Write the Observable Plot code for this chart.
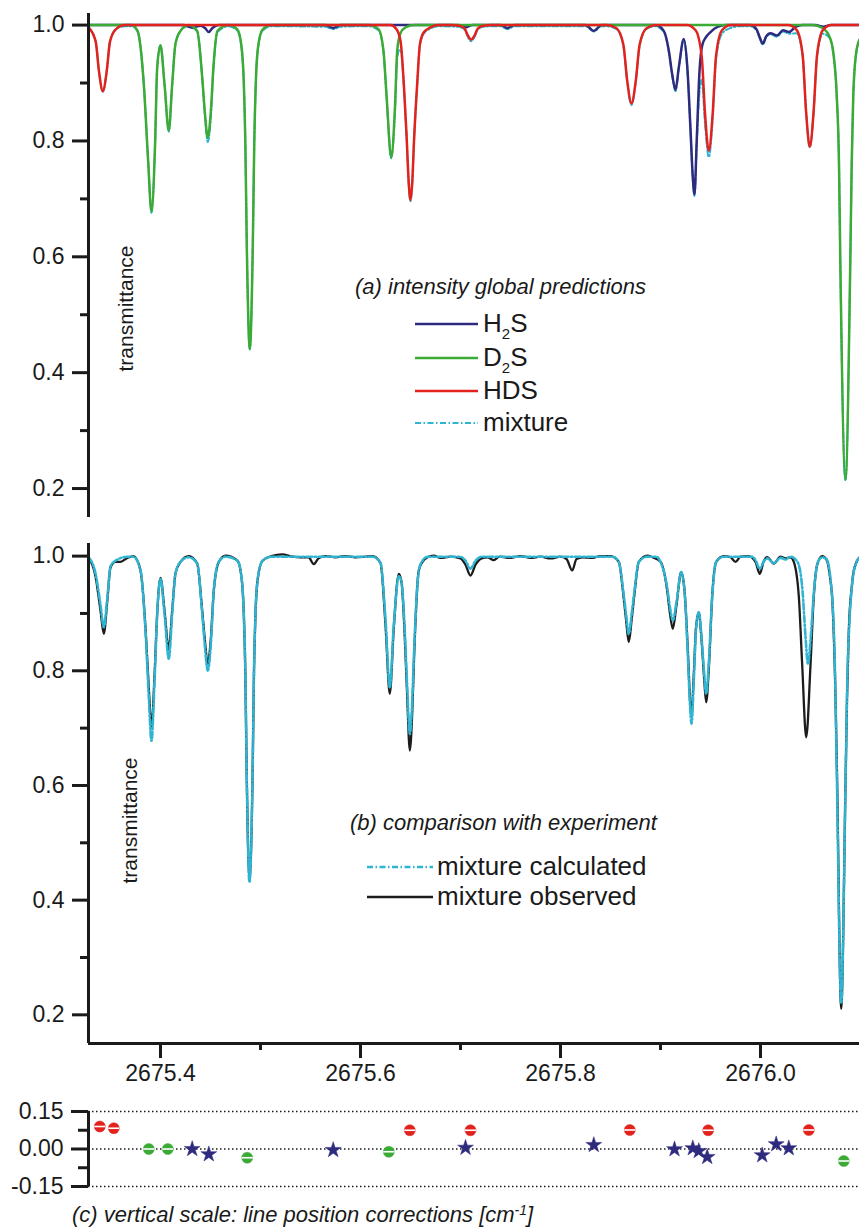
<!DOCTYPE html>
<html><head><meta charset="utf-8">
<script src="https://cdn.jsdelivr.net/npm/d3@7"></script>
<script src="https://cdn.jsdelivr.net/npm/@observablehq/plot@0.6"></script>
<style>
body{margin:0;background:#fff;font-family:"Liberation Sans",Arial,sans-serif;color:#1a1a1a;}
#wrap{position:relative;width:859px;height:1228px;overflow:hidden;background:#fff;}
#wrap > svg{position:absolute;left:0;}
.t{position:absolute;white-space:nowrap;line-height:1;}
.it{font-style:italic;font-size:22px;}
.lg{font-size:26px;}
.rot{transform:rotate(-90deg);transform-origin:center center;font-size:21px;}
.sw{position:absolute;}
</style></head><body>
<div id="wrap"></div>
<script>
// ---------- data ----------
const xDomain = [2675.328, 2676.099];
const yTicksAB = [0.2, 0.4, 0.6, 0.8, 1.0];
const yMinorAB = [0.3, 0.5, 0.7, 0.9];
const xTicks = [2675.4, 2675.6, 2675.8, 2676.0];
const xMinor = [2675.5, 2675.7, 2675.9];
const yTicksC = [0.15, 0.0, -0.15];
const yMinorC = [0.075, -0.075];

// (a) H2S prediction [wavenumber, transmittance]
const h2sA = [[2675.328,1],[2675.423,1],[2675.4317,0.996],[2675.44,0.999],[2675.4445,0.995],[2675.4483,0.988],[2675.452,0.995],[2675.458,1],
[2675.565,1],[2675.5727,0.995],[2675.58,1],[2675.698,1],[2675.705,0.996],[2675.712,1],[2675.74,1],[2675.747,0.995],[2675.754,1],
[2675.825,1],[2675.8333,0.99],[2675.841,1],[2675.895,1],[2675.9033,0.99],[2675.9083,0.956],[2675.9117,0.915],[2675.915,0.888],[2675.9183,0.927],
[2675.9233,0.976],[2675.9267,0.93],[2675.93,0.82],[2675.9322,0.74],[2675.934,0.708],[2675.9362,0.8],[2675.939,0.92],[2675.9417,0.965],[2675.945,0.978],
[2675.95,0.988],[2675.957,0.997],[2675.965,1],[2675.99,1],[2675.996,0.993],[2675.999,0.98],[2676.0023,0.968],[2676.0055,0.98],[2676.01,0.986],
[2676.0165,0.982],[2676.0225,0.991],[2676.0285,0.988],[2676.035,0.997],[2676.042,1],[2676.055,1],[2676.063,0.997],[2676.07,1],[2676.099,1]];

// (a) D2S prediction
const d2sA = [[2675.328,1],[2675.371,1],[2675.377,0.99],[2675.3833,0.898],[2675.3875,0.77],[2675.391,0.678],[2675.3945,0.79],[2675.3967,0.927],
[2675.4,0.965],[2675.404,0.898],[2675.4083,0.818],[2675.4117,0.898],[2675.415,0.968],[2675.42,0.99],[2675.428,1],[2675.4367,0.99],[2675.4417,0.91],
[2675.4443,0.85],[2675.4473,0.806],[2675.4503,0.85],[2675.453,0.93],[2675.457,0.99],[2675.468,1],[2675.477,0.992],[2675.4812,0.96],[2675.4833,0.9],
[2675.4848,0.8],[2675.4863,0.62],[2675.4893,0.441],[2675.4923,0.62],[2675.4938,0.8],[2675.4953,0.9],[2675.4974,0.96],[2675.502,0.992],[2675.511,1],
[2675.608,1],[2675.618,0.993],[2675.623,0.955],[2675.626,0.88],[2675.6307,0.772],[2675.6345,0.86],[2675.6367,0.956],[2675.64,0.986],[2675.645,0.996],
[2675.654,1],[2676.052,1],[2676.062,0.995],[2676.069,0.98],[2676.073,0.95],[2676.0762,0.88],[2676.0785,0.76],[2676.0798,0.593],[2676.085,0.2156],
[2676.0898,0.593],[2676.0912,0.76],[2676.0928,0.88],[2676.0955,0.95],[2676.099,0.975]];

// (a) HDS prediction
const hdsA = [[2675.328,0.996],[2675.3352,0.9715],[2675.3385,0.92],[2675.3423,0.886],[2675.3462,0.92],[2675.3495,0.9715],[2675.3555,0.993],[2675.3643,1],
[2675.63,1],[2675.636,0.993],[2675.64,0.973],[2675.6433,0.899],[2675.646,0.812],[2675.6483,0.726],[2675.65,0.698],[2675.6518,0.73],[2675.6535,0.8],
[2675.6567,0.899],[2675.6595,0.968],[2675.6635,0.988],[2675.67,0.996],[2675.678,1],
[2675.6907,1],[2675.6987,0.999],[2675.7042,0.9938],[2675.7072,0.9825],[2675.7107,0.975],[2675.7142,0.9825],[2675.7172,0.9938],[2675.7227,0.999],[2675.7307,1],
[2675.846,1],[2675.856,0.9946],[2675.8629,0.966],[2675.8666,0.9055],[2675.871,0.865],[2675.8754,0.9055],[2675.8791,0.966],[2675.886,0.9946],[2675.896,1],
[2675.9263,1],[2675.9351,0.991],[2675.9412,0.946],[2675.9445,0.848],[2675.9483,0.783],[2675.9522,0.848],[2675.9555,0.946],[2675.9615,0.991],[2675.9703,1],
[2676.0273,1],[2676.0361,0.9916],[2676.0422,0.9475],[2676.0455,0.853],[2676.0493,0.79],[2676.0532,0.853],[2676.0565,0.9475],[2676.0625,0.9916],[2676.0713,1],[2676.099,1]];

// (a) mixture prediction
const mixA = [[2675.328,0.996],[2675.3352,0.9715],[2675.3385,0.92],[2675.3423,0.885],[2675.3462,0.92],[2675.3495,0.9715],[2675.3555,0.993],[2675.3643,0.998],
[2675.371,0.998],[2675.377,0.99],[2675.3833,0.898],[2675.3875,0.77],[2675.391,0.676],[2675.3945,0.79],[2675.3967,0.927],[2675.4,0.965],[2675.404,0.898],
[2675.4083,0.816],[2675.4117,0.898],[2675.415,0.968],[2675.42,0.99],[2675.428,0.998],[2675.4317,0.995],[2675.4367,0.989],[2675.4417,0.909],[2675.4443,0.846],
[2675.4473,0.798],[2675.4503,0.84],[2675.453,0.925],[2675.457,0.988],[2675.468,0.998],[2675.477,0.99],[2675.4812,0.958],[2675.4833,0.9],[2675.4848,0.8],
[2675.4863,0.62],[2675.4893,0.44],[2675.4923,0.62],[2675.4938,0.8],[2675.4953,0.9],[2675.4974,0.958],[2675.502,0.99],[2675.511,0.998],
[2675.565,0.997],[2675.5727,0.993],[2675.58,0.997],[2675.6,0.998],[2675.608,0.998],[2675.618,0.991],[2675.623,0.953],[2675.626,0.878],[2675.6307,0.77],
[2675.6345,0.85],[2675.6367,0.942],[2675.639,0.957],[2675.6405,0.955],[2675.6433,0.895],[2675.646,0.81],[2675.6483,0.724],[2675.65,0.696],[2675.6518,0.728],
[2675.6535,0.798],[2675.6567,0.897],[2675.6595,0.966],[2675.6635,0.986],[2675.67,0.994],[2675.678,0.998],[2675.698,0.997],[2675.705,0.99],[2675.7072,0.98],
[2675.7107,0.972],[2675.7142,0.98],[2675.7172,0.992],[2675.7227,0.997],[2675.7307,0.998],[2675.74,0.998],[2675.747,0.993],[2675.754,0.998],[2675.825,0.998],
[2675.8333,0.989],[2675.841,0.998],[2675.846,0.998],[2675.856,0.993],[2675.8629,0.964],[2675.8666,0.904],[2675.871,0.862],[2675.8754,0.904],[2675.8791,0.964],
[2675.886,0.993],[2675.895,0.998],[2675.9033,0.988],[2675.9083,0.954],[2675.9117,0.913],[2675.915,0.886],[2675.9183,0.925],[2675.9233,0.974],[2675.9267,0.928],
[2675.93,0.818],[2675.9322,0.738],[2675.934,0.705],[2675.9362,0.79],[2675.939,0.885],[2675.9412,0.905],[2675.9445,0.83],[2675.9483,0.772],[2675.9522,0.838],
[2675.9555,0.94],[2675.9615,0.985],[2675.9703,0.995],[2675.98,0.998],[2675.99,0.998],[2675.996,0.991],[2675.999,0.978],[2676.0023,0.966],[2676.0055,0.978],
[2676.01,0.984],[2676.0165,0.98],[2676.0225,0.989],[2676.0285,0.985],[2676.0361,0.986],[2676.0422,0.946],[2676.0455,0.852],[2676.0493,0.789],[2676.0532,0.852],
[2676.0565,0.945],[2676.0625,0.985],[2676.069,0.978],[2676.073,0.948],[2676.0762,0.878],[2676.0785,0.758],[2676.0798,0.59],[2676.085,0.214],[2676.0898,0.59],
[2676.0912,0.758],[2676.0928,0.878],[2676.0955,0.948],[2676.099,0.972]];

// (b) mixture calculated
const calcB = [[2675.328,0.998],[2675.335,0.97],[2675.34,0.915],[2675.3433,0.876],[2675.3467,0.925],[2675.35,0.982],[2675.355,0.992],[2675.367,0.999],
[2675.373,0.999],[2675.38,0.975],[2675.385,0.87],[2675.3883,0.754],[2675.391,0.678],[2675.394,0.78],[2675.3967,0.9],[2675.4,0.96],[2675.404,0.9],
[2675.4083,0.821],[2675.4117,0.9],[2675.415,0.97],[2675.42,0.99],[2675.4283,0.998],[2675.4367,0.987],[2675.4417,0.9],[2675.4443,0.845],[2675.4473,0.8],
[2675.4503,0.845],[2675.4533,0.94],[2675.4583,0.99],[2675.465,0.999],[2675.477,0.992],[2675.4812,0.96],[2675.4833,0.9],[2675.4848,0.8],[2675.4863,0.61],
[2675.489,0.431],[2675.492,0.61],[2675.4935,0.8],[2675.495,0.9],[2675.4972,0.96],[2675.502,0.992],[2675.511,0.999],[2675.612,0.999],[2675.62,0.988],
[2675.625,0.89],[2675.6293,0.771],[2675.6333,0.88],[2675.6383,0.965],[2675.641,0.955],[2675.644,0.88],[2675.6465,0.78],[2675.6493,0.69],[2675.6518,0.75],
[2675.6535,0.83],[2675.6583,0.975],[2675.662,0.992],[2675.667,0.999],[2675.7,0.999],[2675.705,0.992],[2675.71,0.978],[2675.715,0.992],[2675.721,0.999],
[2675.852,0.999],[2675.8583,0.99],[2675.8627,0.94],[2675.8655,0.9],[2675.8683,0.8645],[2675.8712,0.9],[2675.874,0.94],[2675.8783,0.99],[2675.8867,0.999],
[2675.896,0.999],[2675.9,0.99],[2675.9067,0.945],[2675.9095,0.91],[2675.9123,0.888],[2675.916,0.92],[2675.9207,0.972],[2675.924,0.94],[2675.9275,0.82],
[2675.9295,0.74],[2675.931,0.7075],[2675.9332,0.78],[2675.9355,0.87],[2675.9383,0.902],[2675.941,0.86],[2675.9435,0.8],[2675.9457,0.76],[2675.9485,0.82],
[2675.9517,0.93],[2675.9557,0.99],[2675.9633,0.999],[2675.992,0.999],[2675.995,0.993],[2675.9993,0.978],[2676.003,0.99],[2676.0067,0.996],[2676.0133,0.988],
[2676.02,0.997],[2676.025,0.994],[2676.03,0.999],[2676.037,0.99],[2676.042,0.94],[2676.045,0.86],[2676.0475,0.812],[2676.0503,0.86],[2676.0535,0.94],
[2676.0575,0.99],[2676.0617,0.998],[2676.066,0.995],[2676.07,0.96],[2676.072,0.92],[2676.0745,0.8],[2676.0763,0.62],[2676.0807,0.22],[2676.0852,0.62],
[2676.087,0.8],[2676.0888,0.88],[2676.0915,0.95],[2676.095,0.985],[2676.099,0.997]];

// (b) mixture observed
const obsB = [[2675.328,0.998],[2675.335,0.965],[2675.34,0.905],[2675.3433,0.8645],[2675.3467,0.92],[2675.35,0.98],[2675.355,0.99],[2675.36,0.99],
[2675.367,0.997],[2675.373,1],[2675.38,0.975],[2675.385,0.875],[2675.3883,0.77],[2675.391,0.702],[2675.394,0.79],[2675.3967,0.9],[2675.4,0.962],
[2675.404,0.905],[2675.4083,0.838],[2675.4117,0.905],[2675.415,0.97],[2675.42,0.99],[2675.4283,1],[2675.4367,0.987],[2675.4417,0.905],[2675.4443,0.855],
[2675.4473,0.812],[2675.4503,0.855],[2675.4533,0.94],[2675.4583,0.99],[2675.465,1.001],[2675.477,0.992],[2675.4812,0.96],[2675.4833,0.9],[2675.4848,0.8],
[2675.4863,0.61],[2675.489,0.434],[2675.492,0.61],[2675.4935,0.8],[2675.495,0.9],[2675.4972,0.96],[2675.502,0.992],[2675.511,1],[2675.5217,1.003],
[2675.532,0.999],[2675.54,0.998],[2675.548,0.998],[2675.5533,0.986],[2675.558,0.996],[2675.565,1],[2675.575,0.998],[2675.585,1],[2675.595,0.998],
[2675.605,0.999],[2675.612,1],[2675.62,0.988],[2675.625,0.88],[2675.6293,0.76],[2675.6333,0.875],[2675.6383,0.969],[2675.641,0.955],[2675.644,0.87],
[2675.6465,0.765],[2675.6493,0.661],[2675.6518,0.73],[2675.6535,0.82],[2675.6583,0.975],[2675.662,0.99],[2675.667,0.998],[2675.673,1.001],[2675.68,0.997],
[2675.69,0.999],[2675.7,0.996],[2675.705,0.985],[2675.71,0.966],[2675.715,0.985],[2675.721,0.996],[2675.727,0.998],[2675.7333,0.993],[2675.739,0.999],
[2675.75,0.997],[2675.76,1],[2675.77,0.997],[2675.78,0.999],[2675.79,0.996],[2675.8,0.999],[2675.806,0.995],[2675.8117,0.975],[2675.816,0.995],
[2675.822,0.998],[2675.832,0.997],[2675.84,1],[2675.85,1],[2675.8583,0.99],[2675.8627,0.935],[2675.8655,0.89],[2675.8683,0.85],[2675.8712,0.89],
[2675.874,0.935],[2675.8783,0.99],[2675.8867,1.001],[2675.892,0.998],[2675.9,0.99],[2675.9067,0.94],[2675.9095,0.9],[2675.9123,0.873],[2675.916,0.915],
[2675.9207,0.972],[2675.924,0.94],[2675.9275,0.83],[2675.9295,0.75],[2675.931,0.722],[2675.9332,0.79],[2675.9355,0.875],[2675.9383,0.902],[2675.941,0.855],
[2675.9435,0.79],[2675.9457,0.745],[2675.9485,0.81],[2675.9517,0.93],[2675.9557,0.99],[2675.9633,1],[2675.97,0.998],[2675.975,0.99],[2675.98,0.999],
[2675.988,1],[2675.995,0.99],[2675.9993,0.969],[2676.003,0.99],[2676.0067,0.998],[2676.0133,0.987],[2676.02,0.999],[2676.025,0.996],[2676.03,0.998],
[2676.0333,0.99],[2676.0383,0.93],[2676.0417,0.81],[2676.0457,0.684],[2676.05,0.81],[2676.0533,0.93],[2676.0567,0.985],[2676.0617,1],[2676.066,0.994],
[2676.07,0.957],[2676.0717,0.927],[2676.075,0.754],[2676.0765,0.62],[2676.0807,0.2105],[2676.085,0.6],[2676.0865,0.75],[2676.0883,0.87],[2676.0915,0.95],
[2676.0933,0.975],[2676.099,0.998]];

// (c) line position corrections [cm-1]
const corrHDS = [[2675.3393,0.09],[2675.3533,0.083],[2675.6493,0.075],[2675.71,0.075],[2675.8693,0.076],[2675.9477,0.075],[2676.0483,0.076]];
const corrD2S = [[2675.3883,0.0],[2675.4073,0.0],[2675.4867,-0.035],[2675.6283,-0.011],[2676.0833,-0.048]];
const corrH2S = [[2675.4317,0.0],[2675.4483,-0.021],[2675.5727,-0.004],[2675.705,0.005],[2675.8333,0.016],[2675.914,-0.001],[2675.9323,0.003],
[2675.9383,-0.008],[2675.9467,-0.032],[2676.0017,-0.025],[2676.0157,0.019],[2676.0283,0.003]];

// ---------- styles ----------
const C = {h2s:"#2e2b7e", d2s:"#3bab36", hds:"#e2231d", mix:"#2fb4d2", obs:"#1c1c1c", ink:"#1a1a1a"};
const FONT = '"Liberation Sans", Arial, sans-serif';
const FS = 23;
const X = d => d[0], Y = d => d[1];
const common = {
  width: 859, marginLeft: 88, marginRight: 0,
  x: {domain: xDomain},
  style: {fontFamily: FONT, fontSize: FS + "px", color: C.ink, background: "transparent", overflow: "visible"}
};
const f1 = d3.format(".1f");
const axisYMain = (maj, minr) => [
  Plot.ruleX([xDomain[0]], {stroke: C.ink, strokeWidth: 3}),
  Plot.axisY(maj, {tickSize: 16, tickPadding: 8, tickFormat: f1, strokeWidth: 3, fontSize: FS, fill: C.ink, label: null}),
  Plot.axisY(minr, {tickSize: 8, tickFormat: () => "", strokeWidth: 3, label: null})
];
const lineOpts = (stroke, w, extra = {}) => ({x: X, y: Y, stroke, strokeWidth: w, curve: "monotone-x", ...extra});

const wrap = document.getElementById("wrap");

// Panel (a)
const plotA = Plot.plot({
  ...common, height: 525, marginTop: 13, marginBottom: 8,
  x: {domain: xDomain, axis: null},
  y: {domain: [0.15, 1.02]},
  marks: [
    Plot.line(mixA, lineOpts(C.mix, 2, {strokeDasharray: "6,2.5,1.5,2.5"})),
    Plot.line(h2sA, lineOpts(C.h2s, 2.5)),
    Plot.line(d2sA, lineOpts(C.d2s, 2.5)),
    Plot.line(hdsA, lineOpts(C.hds, 2.5)),
    ...axisYMain(yTicksAB, yMinorAB)
  ]
});
plotA.style.top = "0px";
wrap.appendChild(plotA);

// Panel (b)
const yDomB = [0.15, 1.022];
const plotB = Plot.plot({
  ...common, height: 572, marginTop: 18, marginBottom: 54,
  y: {domain: yDomB},
  marks: [
    Plot.line(obsB, lineOpts(C.obs, 2.3)),
    Plot.line(calcB, lineOpts(C.mix, 2.6, {strokeDasharray: "6,2.5,1.5,2.5"})),
    Plot.ruleY([yDomB[0]], {stroke: C.ink, strokeWidth: 3}),
    ...axisYMain(yTicksAB, yMinorAB),
    Plot.axisX(xTicks, {tickSize: 15, tickPadding: 6, tickFormat: f1, strokeWidth: 3, fontSize: FS, fill: C.ink, label: null}),
    Plot.axisX(xMinor, {tickSize: 7, tickFormat: () => "", strokeWidth: 3, label: null})
  ]
});
plotB.style.top = "525px";
wrap.appendChild(plotB);

// Panel (c)
const stripe = {draw(ctx, size) { const r = Math.sqrt(size / Math.PI); ctx.moveTo(-r, 0); ctx.lineTo(r, 0); }};
const halfDot = (data, color) => [
  Plot.dot(data, {x: X, y: Y, r: 5.5, fill: color, stroke: color, strokeWidth: 0.5}),
  Plot.dot(data, {x: X, y: Y, r: 5.5, symbol: stripe, stroke: "#fff", strokeWidth: 1.6})
];
const plotC = Plot.plot({
  ...common, height: 99, marginTop: 14, marginBottom: 10,
  x: {domain: xDomain, axis: null},
  y: {domain: [-0.15, 0.15]},
  marks: [
    Plot.ruleY(yTicksC, {stroke: C.ink, strokeWidth: 1.5, strokeDasharray: "1.5,2.5"}),
    Plot.ruleX([xDomain[0]], {stroke: C.ink, strokeWidth: 3}),
    Plot.axisY(yTicksC, {tickSize: 17, tickPadding: 8, tickFormat: d => d.toFixed(2), strokeWidth: 3, fontSize: FS, fill: C.ink, label: null}),
    Plot.axisY(yMinorC, {tickSize: 10, tickFormat: () => "", strokeWidth: 3, label: null}),
    ...halfDot(corrHDS, C.hds),
    ...halfDot(corrD2S, C.d2s),
    Plot.dot(corrH2S, {x: X, y: Y, symbol: "star", r: 5, fill: C.h2s, stroke: C.h2s, strokeWidth: 0.5})
  ]
});
plotC.style.top = "1097px";
wrap.appendChild(plotC);

// ---------- texts & legends ----------
function txt(html, cls, left, top) {
  const d = document.createElement("div");
  d.className = "t " + cls; d.innerHTML = html;
  d.style.left = left + "px"; d.style.top = top + "px";
  wrap.appendChild(d); return d;
}
function swatch(x1, x2, y, color, w, dash) {
  const ns = "http://www.w3.org/2000/svg";
  const s = document.createElementNS(ns, "svg");
  s.setAttribute("class", "sw"); s.setAttribute("width", x2 - x1); s.setAttribute("height", 8);
  s.style.left = x1 + "px"; s.style.top = (y - 4) + "px";
  const l = document.createElementNS(ns, "line");
  l.setAttribute("x1", 0); l.setAttribute("x2", x2 - x1); l.setAttribute("y1", 4); l.setAttribute("y2", 4);
  l.setAttribute("stroke", color); l.setAttribute("stroke-width", w);
  if (dash) l.setAttribute("stroke-dasharray", dash);
  s.appendChild(l); wrap.appendChild(s);
}
// rotated y labels
const r1 = txt("transmittance", "rot", 0, 0);
r1.style.left = (125 - r1.offsetWidth / 2) + "px"; r1.style.top = (308 - r1.offsetHeight / 2) + "px";
const r2 = txt("transmittance", "rot", 0, 0);
r2.style.left = (129 - r2.offsetWidth / 2) + "px"; r2.style.top = (820 - r2.offsetHeight / 2) + "px";

txt("(a) intensity global predictions", "it", 355, 276);
const sub2 = "<sub style='font-size:15px;vertical-align:-7px'>2</sub>";
const legA = [["H" + sub2 + "S", C.h2s, 2.5, null, 324],
              ["D" + sub2 + "S", C.d2s, 2.5, null, 357.5],
              ["HDS", C.hds, 2.5, null, 391],
              ["mixture", C.mix, 2, "6,2.5,1.5,2.5", 422.5]];
legA.forEach(([label, color, w, dash, y]) => {
  swatch(415, 478, y, color, w, dash);
  txt(label, "lg", 483, y - 14);
});

txt("(b) comparison with experiment", "it", 350, 812);
swatch(367, 433, 867, C.mix, 2.6, "6,2.5,1.5,2.5");
txt("mixture calculated", "lg", 437, 853);
swatch(367, 433, 897, C.obs, 2.5, null);
txt("mixture observed", "lg", 437, 883);

txt("(c) vertical scale: line position corrections [cm<sup style='font-size:14px;vertical-align:7px;line-height:0'>-1</sup>]", "it", 72, 1204);
</script>
</body></html>
